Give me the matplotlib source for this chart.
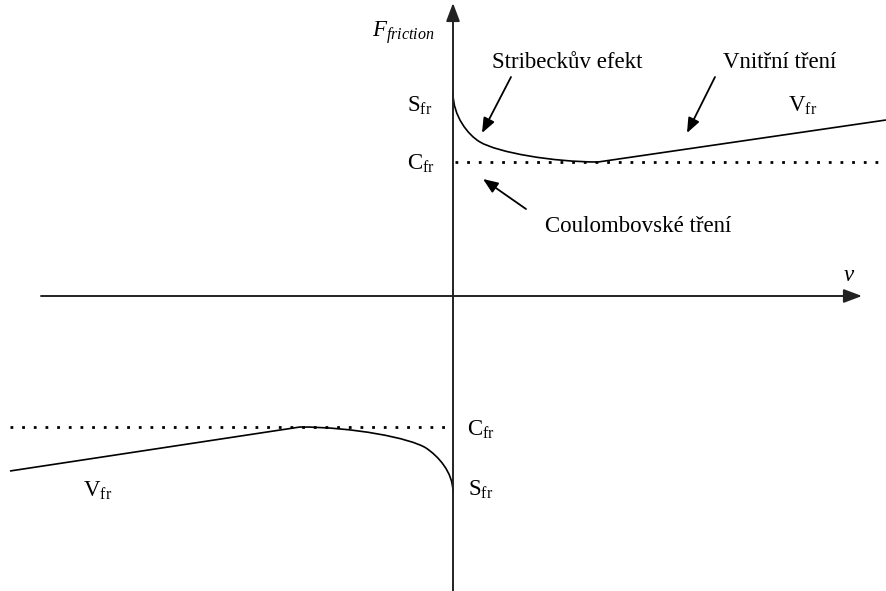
import matplotlib
matplotlib.use('Agg')
from matplotlib import pyplot as plt
from matplotlib.path import Path
from matplotlib.patches import PathPatch

plt.rcParams['font.family'] = ['Liberation Serif', 'DejaVu Serif']
plt.rcParams['mathtext.fontset'] = 'custom'
plt.rcParams['mathtext.rm'] = 'Liberation Serif'
plt.rcParams['mathtext.it'] = 'Liberation Serif:italic'

# friction curve (v to the right, F up)
# Stribeck part as two bezier pieces (control points), then the viscous line
strib_pos_v = [0, 0, 15, 27, 45, 100, 145]
strib_pos_f = [203, 180, 161, 154, 143.4, 134, 134]
visc_pos_v = [145, 433]
visc_pos_f = [134, 176]

strib_neg_v = [0, 0, -15, -27, -43, -100, -153]
strib_neg_f = [-196, -176, -160, -152, -142, -131, -131]
visc_neg_v = [-153, -443]
visc_neg_f = [-131, -175]

c_pos = 134
c_neg = -131

# labels: (text, v, F)
labels = [
    (r'$F_{friction}$', -81, 259),
    ('Stribeckův efekt', 39, 228),
    ('Vnitřní tření', 270, 228),
    (r'V$_{\mathrm{fr}}$', 335, 184),
    (r'S$_{\mathrm{fr}}$', -46, 184),
    (r'C$_{\mathrm{fr}}$', -46, 126),
    ('Coulombovské tření', 92, 64),
    (r'$v$', 390, 15),
    (r'C$_{\mathrm{fr}}$', 14, -140),
    (r'S$_{\mathrm{fr}}$', 15, -200),
    (r'V$_{\mathrm{fr}}$', -370, -201),
]

# arrows: (tail v, tail F, head v, head F)
arrows = [
    (58, 219, 29, 163),
    (262, 219, 234, 163),
    (73, 87, 30, 117),
]

fig = plt.figure(figsize=(8.86, 5.91), dpi=100)
ax = fig.add_axes([0, 0, 1, 1])
ax.set_xlim(-453, 433)
ax.set_ylim(-295, 296)
ax.axis('off')

axc = '#222222'
axis_arrow = dict(arrowstyle='-|>,head_length=0.85,head_width=0.32',
                  lw=1.4, color=axc, mutation_scale=13, shrinkA=0, shrinkB=0)
ax.annotate('', xy=(409, 0), xytext=(-412, 0), arrowprops=axis_arrow)
ax.annotate('', xy=(0, 293), xytext=(0, -295), arrowprops=axis_arrow)

# Coulomb levels
ax.plot([2, 433], [c_pos, c_pos], color='black', lw=2.0,
        linestyle=(0, (1, 3.2)), dash_capstyle='butt')
ax.plot([-443, -2], [c_neg, c_neg], color='black', lw=2.0,
        linestyle=(0, (1, 3.2)), dash_capstyle='butt')

# friction curve
for sv, sf, vv, vf in [(strib_pos_v, strib_pos_f, visc_pos_v, visc_pos_f),
                       (strib_neg_v, strib_neg_f, visc_neg_v, visc_neg_f)]:
    verts = list(zip(sv, sf)) + [(vv[1], vf[1])]
    codes = [Path.MOVETO] + [Path.CURVE4] * 6 + [Path.LINETO]
    ax.add_patch(PathPatch(Path(verts, codes), fill=False, color='black',
                           lw=1.2, joinstyle='round'))

for t, x, y in labels:
    ax.text(x, y, t, fontsize=16.5, ha='left', va='baseline')

for x0, y0, x1, y1 in arrows:
    ax.annotate('', xy=(x1, y1), xytext=(x0, y0),
                arrowprops=dict(arrowstyle='-|>,head_length=0.75,head_width=0.3',
                                lw=1.3, color='black', mutation_scale=12,
                                shrinkA=0, shrinkB=0))

fig.savefig('out.png', dpi=100)
